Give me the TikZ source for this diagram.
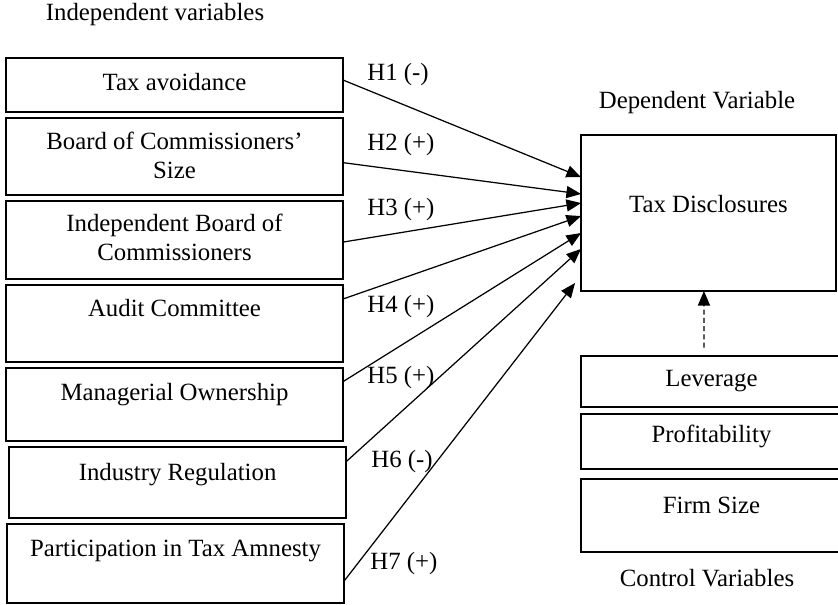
\documentclass[tikz,border=0pt]{standalone}
\usepackage{fontspec}
\setmainfont{Liberation Serif}
\usetikzlibrary{positioning}
\usetikzlibrary{arrows}
\tikzstyle{var} = [rectangle, draw=black, line width=1pt, inner xsep=2pt, inner ysep=0pt,
outer sep=0pt, minimum width=163.1pt, font=\fontsize{12}{13.9}\selectfont, node distance=2.9pt]
\tikzstyle{dep} = [var, minimum width=123.4pt, minimum height=75.5pt,
text height=37.7pt, text depth=37.7pt]
\tikzstyle{ctrl} = [var, minimum width=126.3pt]
\tikzstyle{caption} = [font=\fontsize{12}{13.9}\selectfont, inner sep=0pt]
\tikzstyle{hyp} = [caption, anchor=west]
\tikzset{>={triangle 45}}
\newcommand{\twolines}[2]{%
  % two centred lines, baseline on the first one
  \begin{tabular}[t]{@{}c@{}}#1\\#2\end{tabular}}

\begin{document}
\begin{tikzpicture}[x=0.484pt, y=-0.484pt]
				\useasboundingbox (0,0) rectangle (838,605);
				\clip (0,0) rectangle (838,605);

				\node[caption] (iv) at (155,15) {Independent variables};
				\node[caption] (dvar) at (697,103) {Dependent Variable};
				\node[caption] (cv) at (707,578) {Control Variables};

				\node[var, anchor=north west, minimum height=26.1pt, text height=15.5pt, text depth=10.6pt] (ta) at (6,58) {Tax avoidance};
				\node[var, below=of ta, minimum height=37.3pt, text height=15.5pt, text depth=21.8pt] (bcs) {\twolines{Board of Commissioners'}{Size}};
				\node[var, below=of bcs, minimum height=37.8pt, text height=15pt, text depth=22.8pt] (ibc) {\twolines{Independent Board of}{Commissioners}};
				\node[var, below=of ibc, minimum height=37.3pt, text height=15pt, text depth=22.3pt] (ac) {Audit Committee};
				\node[var, below=of ac, minimum height=35.3pt, text height=15.5pt, text depth=19.8pt] (mo) {Managerial Ownership};
				\node[var, below=of mo, xshift=1.5pt, minimum height=34.4pt, text height=16pt, text depth=18.4pt] (ir) {Industry Regulation};
				\node[var, below=of ir, xshift=-1pt, minimum height=38.2pt, text height=15.5pt, text depth=22.7pt] (pta) {Participation in Tax Amnesty};

				\node[dep, anchor=north west] (td) at (581,135) {Tax Disclosures};
				\node[ctrl, anchor=north west, minimum height=24.7pt, text height=14.9pt, text depth=9.8pt] (lev) at (581,356) {Leverage};
				\node[ctrl, below=3.4pt of lev, minimum height=26.6pt, text height=14pt, text depth=12.6pt] (prof) {Profitability};
				\node[ctrl, below=4.8pt of prof, minimum height=35.3pt, text height=16.5pt, text depth=18.8pt] (fs) {Firm Size};

				% hypotheses
				\foreach \src/\sy/\ex/\ey/\lx/\ly/\lab [count=\i] in {
				  ta/2.4/0/17.4/367/75/H1 (-),
				  bcs/-3/0/9.2/367/145/H2 (+),
				  ibc/-1/0/4.8/367/210/H3 (+),
				  ac/11.9/0/-1.5/367/307/H4 (+),
				  mo/11.1/0/-9.7/367/378/H5 (+),
				  ir/10.1/0/-17.4/371/462/H6 (-),
				  pta/-8.5/-2.9/-33.9/370/564/H7 (+)} {
				  \draw[->, line width=0.6pt] ([yshift=\sy pt]\src.east) -- ([xshift=\ex pt, yshift=\ey pt]td.west);
				  \node[hyp] (h\i) at (\lx,\ly) {\lab};
				}

				\draw[->, line width=0.6pt, dash pattern=on 2.5pt off 1.5pt] ([xshift=-3.6pt, yshift=4pt]lev.north) -- ([xshift=-2.2pt]td.south);
            \end{tikzpicture}
\end{document}
